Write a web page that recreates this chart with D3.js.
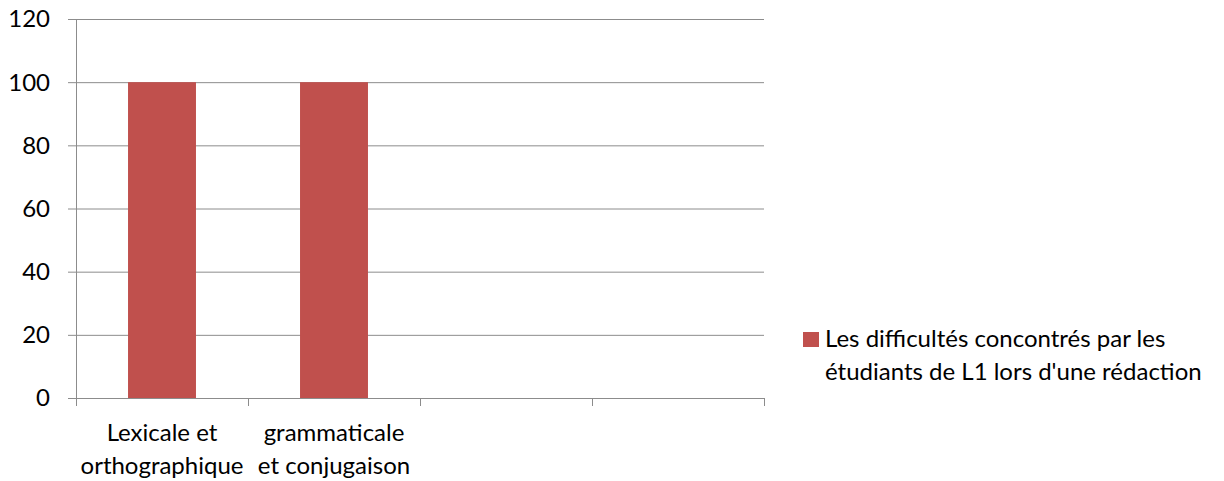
<!DOCTYPE html>
<html>
<head>
<meta charset="utf-8">
<script src="https://cdn.jsdelivr.net/npm/d3@7"></script>
<style>
  body { margin: 0; background: #fff; }
  text { font-family: Lato, "Open Sans", sans-serif; fill: #000; }
</style>
</head>
<body>
<svg id="chart" width="1224" height="481"></svg>
<script>
const categories = [
  ["Lexicale et", "orthographique"],
  ["grammaticale", "et conjugaison"],
  ["", ""],
  ["", ""]
];
const values = [100, 100, null, null];
const yTicks = [0, 20, 40, 60, 80, 100, 120];
const seriesName = ["Les difficultés concontrés par les", "étudiants de L1 lors d'une rédaction"];

const fs = 24;
const svg = d3.select("#chart");
const margin = { left: 76, right: 460, top: 19, bottom: 83 };
const width = 1224 - margin.left - margin.right;
const height = 481 - margin.top - margin.bottom;

const g = svg.append("g").attr("transform", `translate(${margin.left},${margin.top})`);

const x = d3.scaleBand().domain(d3.range(categories.length)).range([0, width]).padding(0);
const y = d3.scaleLinear().domain([0, 120]).range([height, 0]);

// gridlines + y ticks
g.selectAll(".grid")
  .data(yTicks)
  .enter().append("line")
  .attr("x1", -8)
  .attr("x2", width)
  .attr("y1", d => y(d) + 0.5)
  .attr("y2", d => y(d) + 0.5)
  .attr("stroke", "#8c8c8c")
  .attr("stroke-width", 1);

g.selectAll(".ylab")
  .data(yTicks)
  .enter().append("text")
  .attr("x", -26)
  .attr("y", d => y(d))
  .attr("dy", "0.35em")
  .attr("text-anchor", "end")
  .attr("font-size", fs)
  .text(d => d);

// y axis line
g.append("line")
  .attr("x1", 0.5).attr("x2", 0.5)
  .attr("y1", 0).attr("y2", height)
  .attr("stroke", "#8c8c8c");

// x tick marks
const bounds = d3.range(categories.length + 1).map(i => i * x.step());
g.selectAll(".xtick")
  .data(bounds)
  .enter().append("line")
  .attr("x1", d => d + 0.5).attr("x2", d => d + 0.5)
  .attr("y1", height).attr("y2", height + 8)
  .attr("stroke", "#8c8c8c");

// bars
const barW = x.bandwidth() * 0.395;
g.selectAll(".bar")
  .data(values.map((v, i) => ({ v, i })).filter(d => d.v != null))
  .enter().append("rect")
  .attr("x", d => x(d.i) + (x.bandwidth() - barW) / 2)
  .attr("y", d => y(d.v))
  .attr("width", barW)
  .attr("height", d => height - y(d.v))
  .attr("fill", "#c0504d");

// x labels
const xl = g.selectAll(".xlab")
  .data(categories)
  .enter().append("text")
  .attr("text-anchor", "middle")
  .attr("font-size", fs)
  .attr("transform", (d, i) => `translate(${x(i) + x.bandwidth() / 2},${height + 43})`);
xl.each(function(d) {
  const t = d3.select(this);
  d.forEach((line, k) => {
    t.append("tspan").attr("x", 0).attr("y", k * 33).text(line);
  });
});

// legend
const lg = svg.append("g").attr("transform", "translate(803,332)");
lg.append("rect").attr("width", 16).attr("height", 15).attr("fill", "#c0504d");
const lt = lg.append("text").attr("font-size", fs);
seriesName.forEach((line, k) => {
  lt.append("tspan").attr("x", 22).attr("y", 15 + k * 33).text(line);
});
</script>
</body>
</html>
